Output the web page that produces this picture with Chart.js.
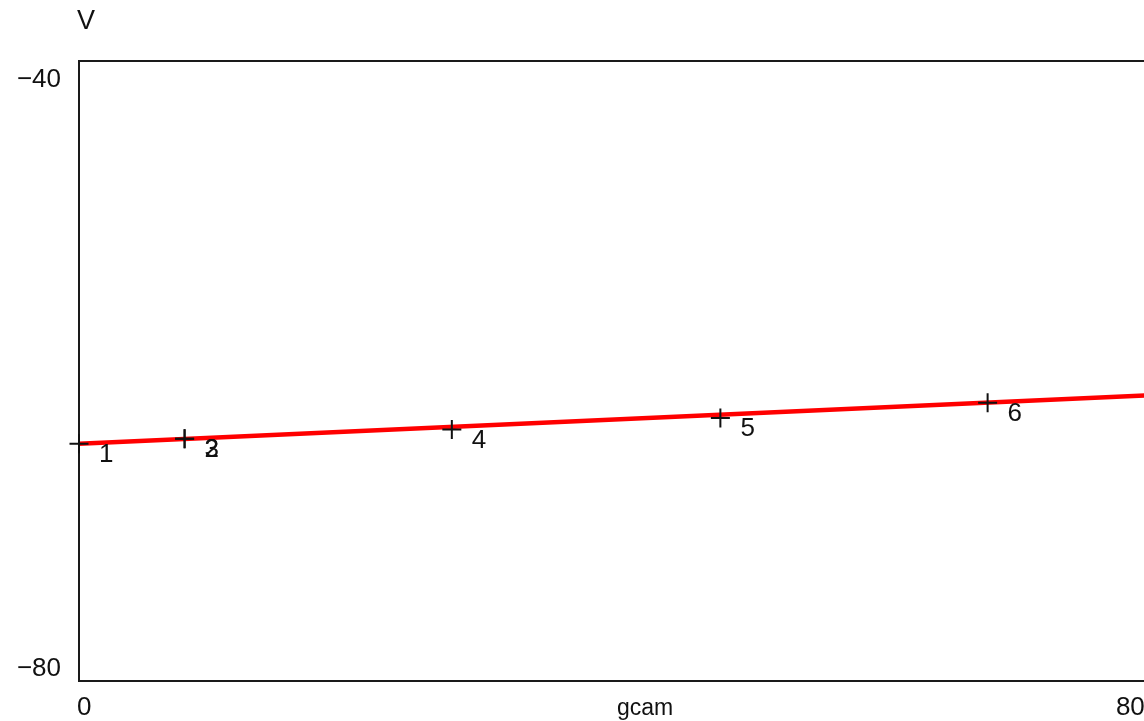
<!DOCTYPE html>
<html>
<head>
<meta charset="utf-8">
<title>V vs gcam</title>
<script src="https://cdn.jsdelivr.net/npm/chart.js@4/dist/chart.umd.min.js"></script>
<style>
  html, body { margin: 0; padding: 0; background: #fff; overflow: hidden; }
  #wrap { width: 1220px; height: 721px; }
</style>
</head>
<body>
<div id="wrap"><canvas id="c" width="1220" height="721"></canvas></div>
<script>
// Sampled runs: gcam on x, membrane potential V on y
const runLabels = ['1', '2', '3', '4', '5', '6'];
const gcamValues = [0, 8.1, 8.1, 28.6, 49.2, 69.7];
const vValues = [-64.70, -64.37, -64.37, -63.77, -63.03, -62.05];

// Straight trend line across the gcam range
const trendX = [0, 83];
const trendV = [-64.70, -61.53];

// Axis ranges and labelled ticks
const xRange = [0, 83];
const yRange = [-80, -40];
const xTickValues = [0, 80];
const xTickLabels = ['0', '80'];
const yTickValues = [-40, -80];
const yTickLabels = ['\u221240', '\u221280'];

const FONT = '26px "Liberation Sans", Arial, sans-serif';

const framePlugin = {
  id: 'frameAndText',
  beforeDatasetsDraw(chart) {
    const { ctx, chartArea: a } = chart;
    ctx.save();
    ctx.strokeStyle = '#1a1a1a';
    ctx.lineWidth = 2;
    ctx.strokeRect(a.left, a.top, a.right - a.left, a.bottom - a.top);
    ctx.restore();
  },
  afterDraw(chart) {
    const { ctx, scales } = chart;
    const xs = scales.x, ys = scales.y;
    ctx.save();
    ctx.fillStyle = '#111';
    ctx.font = FONT;

    // y tick labels: top one sits just below its tick, bottom one just above
    ctx.textAlign = 'right';
    ctx.textBaseline = 'middle';
    yTickValues.forEach((v, i) => {
      const py = ys.getPixelForValue(v) + (i === 0 ? 18.5 : -12.5);
      ctx.fillText(yTickLabels[i], 61, py);
    });

    // x tick labels
    ctx.textAlign = 'left';
    ctx.textBaseline = 'alphabetic';
    xTickValues.forEach((v, i) => {
      const px = xs.getPixelForValue(v) + (i === 0 ? -2 : -6);
      ctx.fillText(xTickLabels[i], px, 715);
    });

    // axis names
    ctx.textAlign = 'center';
    ctx.font = '23px "Liberation Sans", Arial, sans-serif';
    ctx.fillText('gcam', 645, 715);
    ctx.textAlign = 'left';
    ctx.font = '27px "Liberation Sans", Arial, sans-serif';
    ctx.fillText('V', 77, 29);

    // run numbers beside each marker
    ctx.font = FONT;
    runLabels.forEach((t, i) => {
      const px = xs.getPixelForValue(gcamValues[i]);
      const py = ys.getPixelForValue(vValues[i]);
      ctx.fillText(t, px + 20, py + 18.5);
    });
    ctx.restore();
  }
};

new Chart(document.getElementById('c'), {
  type: 'scatter',
  data: {
    datasets: [
      {
        label: 'trend',
        type: 'line',
        data: trendX.map((x, i) => ({ x, y: trendV[i] })),
        borderColor: '#ff0000',
        borderWidth: 4.5,
        pointRadius: 0,
        fill: false,
        order: 2
      },
      {
        label: 'runs',
        data: gcamValues.map((x, i) => ({ x, y: vValues[i] })),
        pointStyle: 'cross',
        pointRadius: 9.5,
        pointBorderWidth: 2,
        borderColor: '#111',
        backgroundColor: '#111',
        clip: false,
        order: 1
      }
    ]
  },
  options: {
    responsive: false,
    animation: false,
    events: [],
    layout: { padding: { left: 79, top: 61, right: 59, bottom: 40 } },
    plugins: { legend: { display: false }, tooltip: { enabled: false } },
    scales: {
      x: { type: 'linear', min: xRange[0], max: xRange[1], display: false },
      y: { type: 'linear', min: yRange[0], max: yRange[1], display: false }
    }
  },
  plugins: [framePlugin]
});
</script>
</body>
</html>
